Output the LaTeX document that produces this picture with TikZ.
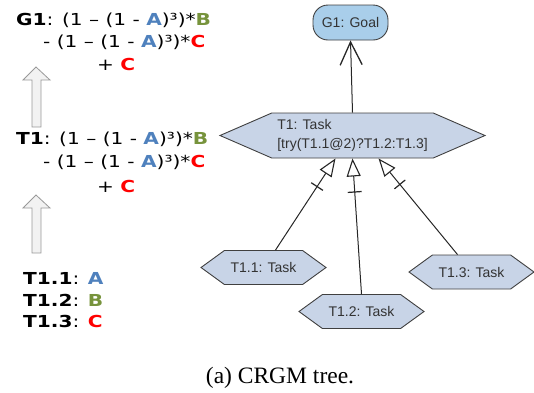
\documentclass[tikz,border=0pt]{standalone}
\usepackage{fontspec}
\setmainfont{Liberation Serif}
\newfontfamily\formfont[FakeStretch=1.22]{DejaVu Sans}
\newfontfamily\boxfont{Liberation Sans}
\usetikzlibrary{shapes.geometric,shapes.symbols,arrows.meta,calc}
\definecolor{attblue}{HTML}{4F81BD}
\definecolor{attgreen}{HTML}{77933C}
\definecolor{attred}{HTML}{FF0000}
\definecolor{taskfill}{HTML}{C8D4E7}
\definecolor{goalfill}{HTML}{A9CEEA}
\newcommand\attA{\textbf{\color{attblue}A}}
\newcommand\attB{\textbf{\color{attgreen}B}}
\newcommand\attC{\textbf{\color{attred}C}}
\tikzset{
  formula/.style={anchor=base west,inner sep=0pt,font=\formfont\fontsize{16.5}{19}\selectfont},
  goal/.style={draw=black!75,fill=goalfill,rounded corners=15pt,minimum width=75pt,minimum height=35pt,
    font=\boxfont\fontsize{14}{17}\selectfont,text=black!80,line width=0.9pt},
  task/.style={shape=signal,signal to=west and east,draw=black!75,fill=taskfill,line width=0.9pt,
    signal pointer angle=72,minimum width=125pt,minimum height=34pt,
    font=\boxfont\fontsize{14}{17}\selectfont,text=black!80},
  refine/.style={draw=black!85,line width=1pt,
    -{Bar[width=14pt,sep=15pt,line width=1.2pt]Triangle[open,fill=white,length=18pt,width=14pt,line width=1.1pt]}},
  upflow/.style={draw=black!40,fill=black!5,line width=0.8pt}
}
\begin{document}
\begin{tikzpicture}[x=1pt,y=-1pt]
\useasboundingbox (0,0) rectangle (534,392);
% formulas on the left
\node[formula] (g1a) at (16,25) {\textbf{G1}: (1 – (1 - \attA)³)*\attB};
\node[formula] (g1b) at (43,47) {- (1 – (1 - \attA)³)*\attC};
\node[formula] (g1c) at (97,70) {+ \attC};
\node[formula] (t1a) at (16,144) {\textbf{T1}: (1 – (1 - \attA)³)*\attB};
\node[formula] (t1b) at (43,167) {- (1 – (1 - \attA)³)*\attC};
\node[formula] (t1c) at (97,192) {+ \attC};
\node[formula] (t11) at (23,284) {\textbf{T1.1}: \attA};
\node[formula] (t12) at (23,306) {\textbf{T1.2}: \attB};
\node[formula] (t13) at (23,327) {\textbf{T1.3}: \attC};
\foreach \ty/\by in {67/127,195/253}
  \draw[upflow] (36,\ty)--(50,\ty+13)--(41,\ty+13)--(41,\by)--(32,\by)--(32,\ty+13)--(23,\ty+13)--cycle;
% goal model
\node[goal] (G1) at (350.5,22.5) {G1: Goal};
\node[task,signal pointer angle=47,minimum width=265pt,minimum height=45pt,align=left,
  font=\boxfont\fontsize{14}{19}\selectfont] (T1) at (352.5,135.5) {T1: Task\\{[try(T1.1@2)?T1.2:T1.3]}};
\node[task] (T11) at (263.5,267.5) {T1.1: Task};
\node[task] (T12) at (361.5,311.5) {T1.2: Task};
\node[task] (T13) at (471.5,272) {T1.3: Task};
\draw[draw=black!85,line width=1pt,-{Straight Barb[length=23pt,width=22pt,line width=1.3pt]}] (T1.north)--(G1.south);
\draw[refine] ($(T11.north)+(12,0)$)--($(T1.south)+(-17,0)$);
\draw[refine] (T12.north)--(T1.south);
\draw[refine] ($(T13.north)+(-14,0)$)--($(T1.south)+(26,0)$);
\node[anchor=base,inner sep=0pt,font=\fontsize{23.5}{26}\selectfont] (cap) at (280,383) {(a) CRGM tree.};
\end{tikzpicture}
\end{document}
